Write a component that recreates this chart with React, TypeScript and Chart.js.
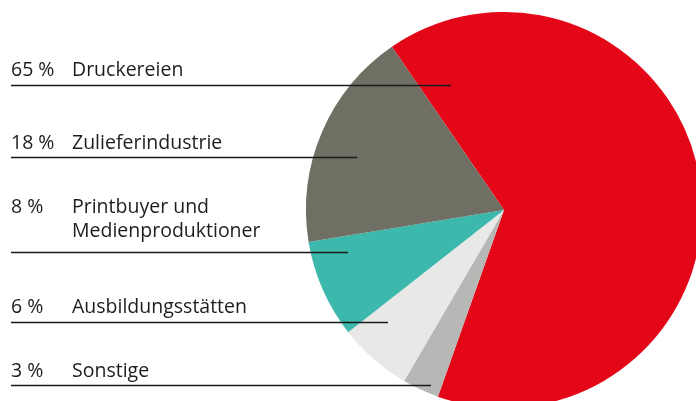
import React, { useEffect, useRef } from "react";
import { Chart, registerables } from "chart.js";

Chart.register(...registerables);

// Legend order (top to bottom)
const categories = ["Druckereien", "Zulieferindustrie", "Printbuyer und\nMedienproduktioner", "Ausbildungsstätten", "Sonstige"];
const values = [65, 18, 8, 6, 3];
const percentLabels = ["65 %", "18 %", "8 %", "6 %", "3 %"];
const colors = ["#E30718", "#6F6F63", "#3DB8AD", "#E8E8E6", "#B7B7B5"];
// clockwise drawing order of the slices (indices into the lists above)
const drawOrder = [0, 4, 3, 2, 1];

// label layout (row baselines, leader lines)
const rowBaselines = [76, 149, 213, 313, 377];
const lineYs = [85, 157, 252, 322, 385];
const lineEnds = [451, 357, 348, 388, 431];

const labelPlugin = {
  id: "leaderLabels",
  afterDatasetsDraw(chart: any) {
    const ctx = chart.ctx;
    ctx.save();
    ctx.fillStyle = "#1d1d1b";
    ctx.font = "19.5px 'Open Sans'";
    ctx.textBaseline = "alphabetic";
    ctx.textAlign = "left";
    categories.forEach((cat, i) => {
      const base = rowBaselines[i];
      ctx.fillText(percentLabels[i], 11, base);
      const parts = cat.split("\n");
      parts.forEach((p, j) => ctx.fillText(p, 72, base + j * 24));
      ctx.beginPath();
      ctx.strokeStyle = "#1a1a1a";
      ctx.lineWidth = 1.4;
      ctx.moveTo(11, lineYs[i] + 0.5);
      ctx.lineTo(lineEnds[i], lineYs[i] + 0.5);
      ctx.stroke();
    });
    ctx.restore();
  },
};

export default function App() {
  const ref = useRef<HTMLCanvasElement>(null);
  useEffect(() => {
    document.body.style.margin = "0";
    const chart = new Chart(ref.current!, {
      type: "pie",
      data: {
        labels: drawOrder.map((i) => categories[i]),
        datasets: [
          {
            data: drawOrder.map((i) => values[i]),
            backgroundColor: drawOrder.map((i) => colors[i]),
            borderWidth: 0,
            hoverOffset: 0,
            clip: false as any,
          },
        ],
      },
      options: {
        responsive: false,
        animation: false,
        rotation: -34.5,
        radius: 198,
        layout: { padding: { left: 312, right: 0, top: 19, bottom: 0 } },
        plugins: { legend: { display: false }, tooltip: { enabled: false } },
      },
      plugins: [labelPlugin],
    });
    return () => chart.destroy();
  }, []);
  return (
    <div style={{ position: "fixed", left: 0, top: 0, width: 696, height: 401, overflow: "hidden", background: "#fff" }}>
      <canvas ref={ref} width={696} height={401} />
    </div>
  );
}
